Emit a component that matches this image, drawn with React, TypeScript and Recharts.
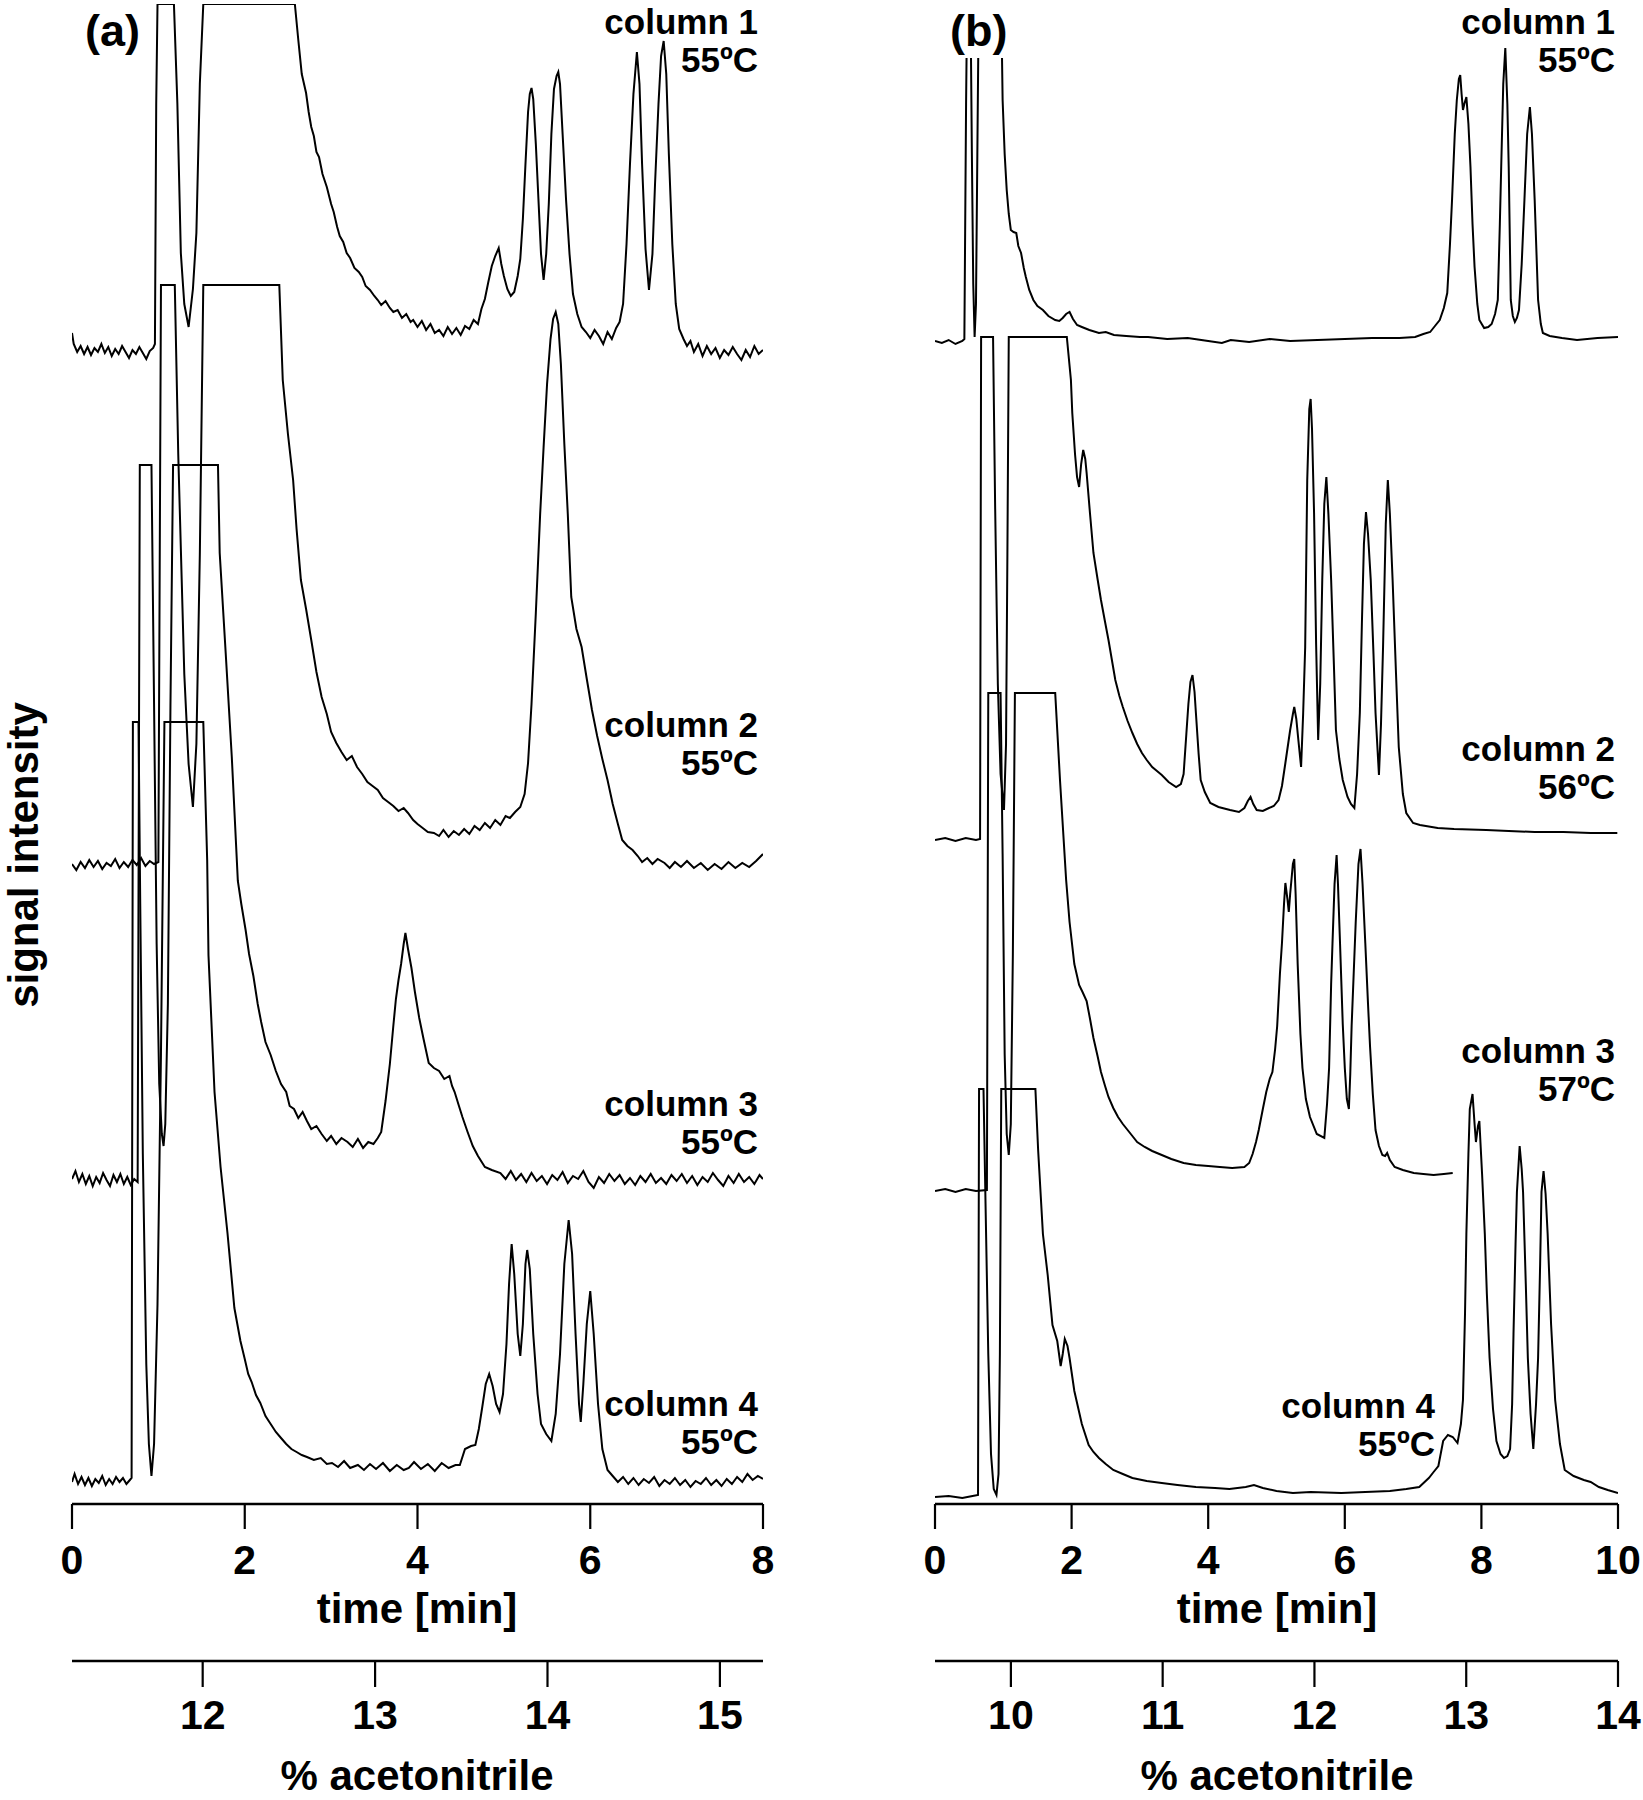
import React from 'react';
import { LineChart, Line, XAxis, YAxis } from 'recharts';

const FONT = '"Liberation Sans", Arial, Helvetica, sans-serif';

// ---- axes ----
const timeTicksA = [0, 2, 4, 6, 8];
const timeDomainA = [0, 8];
const acnTicksA = [12, 13, 14, 15];
const acnDomainA = [11.242, 15.25];

const timeTicksB = [0, 2, 4, 6, 8, 10];
const timeDomainB = [0, 10];
const acnTicksB = [10, 11, 12, 13, 14];
const acnDomainB = [9.5, 14];

const signalDomain = [0, 1500];

// ---- panel (a) traces: [time (min), signal (a.u., stacked)] ----
const A1: number[][] = [
  [0,1171],[0.02,1160],[0.06,1152],[0.1,1158],[0.14,1150],[0.18,1157],[0.22,1149],[0.26,1156],[0.3,1152],[0.34,1160],[0.38,1151],[0.42,1157],[0.46,1148],[0.5,1155],[0.54,1150],[0.58,1158],[0.62,1152],[0.66,1146],[0.7,1154],[0.74,1150],[0.78,1157],[0.82,1151],[0.86,1145],[0.9,1153],[0.94,1156],[0.96,1160],
  [0.975,1400],[0.99,1500],[1.18,1500],[1.22,1400],[1.26,1251],[1.3,1200],[1.35,1177],[1.4,1215],[1.44,1271],[1.48,1420],[1.52,1500],[2.58,1500],
  [2.62,1464],[2.66,1430],[2.71,1411],[2.74,1392],[2.77,1377],[2.8,1368],[2.83,1352],[2.86,1347],[2.9,1330],[2.95,1317],[3.0,1300],[3.03,1292],[3.07,1277],[3.1,1268],[3.14,1262],[3.18,1251],[3.22,1246],[3.27,1236],[3.32,1232],[3.36,1227],[3.4,1218],[3.45,1214],[3.5,1208],[3.54,1204],[3.58,1199],[3.63,1203],[3.68,1196],[3.72,1192],[3.77,1194],[3.82,1186],[3.87,1190],[3.92,1182],[3.95,1184],[4.0,1177],[4.05,1183],[4.1,1174],[4.15,1180],[4.2,1171],[4.25,1174],[4.3,1168],[4.35,1177],[4.4,1170],[4.45,1176],[4.5,1169],[4.55,1178],[4.6,1175],[4.65,1184],[4.7,1180],[4.74,1195],[4.78,1205],[4.82,1222],[4.86,1238],[4.9,1248],[4.94,1256],[4.97,1240],[5.0,1228],[5.04,1215],[5.08,1208],[5.12,1212],[5.16,1228],[5.19,1245],[5.22,1285],[5.25,1340],[5.28,1392],[5.3,1410],[5.32,1416],[5.34,1405],[5.37,1360],[5.4,1305],[5.43,1250],[5.46,1224],[5.49,1250],[5.52,1300],[5.55,1370],[5.58,1415],[5.61,1428],[5.63,1432],[5.65,1420],[5.68,1370],[5.72,1304],[5.76,1250],[5.8,1210],[5.85,1190],[5.9,1177],[5.95,1172],[6.0,1166],[6.05,1174],[6.1,1168],[6.15,1160],[6.2,1172],[6.25,1165],[6.3,1176],[6.34,1182],[6.38,1200],[6.42,1260],[6.46,1340],[6.5,1410],[6.54,1452],[6.57,1420],[6.6,1340],[6.64,1255],[6.68,1214],[6.72,1250],[6.75,1320],[6.79,1400],[6.82,1448],[6.85,1463],[6.88,1430],[6.91,1350],[6.95,1260],[6.99,1200],[7.03,1175],[7.08,1165],[7.12,1158],[7.16,1163],[7.2,1152],[7.25,1160],[7.3,1148],[7.35,1158],[7.4,1150],[7.45,1156],[7.5,1146],[7.55,1154],[7.6,1149],[7.65,1157],[7.7,1150],[7.75,1144],[7.8,1154],[7.85,1147],[7.9,1158],[7.95,1150],[8.0,1154],
];

const A2: number[][] = [
  [0,640],[0.05,634],[0.1,642],[0.15,636],[0.2,644],[0.25,637],[0.3,643],[0.35,635],[0.4,641],[0.45,638],[0.5,645],[0.55,636],[0.6,642],[0.65,637],[0.7,644],[0.75,639],[0.8,646],[0.85,638],[0.9,643],[0.95,640],[1.0,642],
  [1.03,1219],[1.19,1219],[1.23,1050],[1.3,830],[1.35,740],[1.4,697],[1.44,760],[1.48,950],[1.52,1219],[2.4,1219],
  [2.44,1124],[2.5,1070],[2.56,1024],[2.6,975],[2.65,924],[2.71,895],[2.77,864],[2.83,832],[2.89,807],[2.95,790],[3.0,772],[3.06,761],[3.12,752],[3.18,744],[3.24,748],[3.3,737],[3.36,730],[3.42,722],[3.48,718],[3.54,714],[3.6,706],[3.66,702],[3.72,698],[3.78,693],[3.84,696],[3.89,691],[3.95,684],[4.0,680],[4.06,676],[4.12,672],[4.19,671],[4.25,668],[4.3,674],[4.36,667],[4.42,673],[4.48,669],[4.54,675],[4.6,670],[4.66,678],[4.72,674],[4.78,681],[4.84,676],[4.9,684],[4.96,679],[5.02,688],[5.07,686],[5.13,692],[5.19,697],[5.24,710],[5.28,741],[5.32,800],[5.37,891],[5.42,990],[5.46,1057],[5.5,1120],[5.54,1165],[5.57,1185],[5.6,1192],[5.63,1180],[5.66,1140],[5.7,1060],[5.74,990],[5.78,907],[5.84,875],[5.9,857],[5.96,825],[6.02,794],[6.08,768],[6.14,745],[6.2,724],[6.26,700],[6.32,680],[6.37,664],[6.43,658],[6.49,654],[6.55,648],[6.6,642],[6.66,646],[6.72,640],[6.78,645],[6.86,641],[6.92,636],[6.98,642],[7.05,637],[7.12,643],[7.2,636],[7.28,641],[7.36,634],[7.44,640],[7.52,635],[7.6,642],[7.68,636],[7.76,641],[7.84,637],[7.92,643],[8.0,650],
];

const A3: number[][] = [
  [0,325],[0.04,333],[0.08,322],[0.12,330],[0.16,320],[0.2,328],[0.24,318],[0.28,327],[0.32,321],[0.36,331],[0.4,324],[0.44,318],[0.48,329],[0.52,322],[0.56,330],[0.6,320],[0.64,327],[0.68,319],[0.72,325],[0.76,322],
  [0.785,1039],[0.92,1039],[0.95,800],[0.98,560],[1.01,420],[1.04,370],[1.06,358],[1.08,380],[1.11,500],[1.14,800],[1.17,1039],[1.69,1039],
  [1.71,951],[1.78,850],[1.85,747],[1.92,623],[1.96,600],[2.01,574],[2.05,550],[2.1,528],[2.15,500],[2.19,482],[2.24,462],[2.3,449],[2.36,433],[2.42,420],[2.48,412],[2.52,398],[2.57,395],[2.62,386],[2.67,392],[2.72,383],[2.77,375],[2.83,378],[2.89,370],[2.95,363],[3.0,368],[3.06,360],[3.12,366],[3.19,362],[3.25,357],[3.31,365],[3.37,356],[3.43,362],[3.49,360],[3.54,366],[3.58,372],[3.63,403],[3.68,440],[3.72,478],[3.75,505],[3.78,524],[3.81,540],[3.84,560],[3.86,571],[3.89,555],[3.93,536],[3.97,512],[4.02,486],[4.07,465],[4.13,441],[4.19,436],[4.25,433],[4.31,425],[4.37,428],[4.4,418],[4.43,412],[4.48,398],[4.52,387],[4.58,372],[4.64,358],[4.7,348],[4.78,337],[4.86,334],[4.96,331],[5.02,325],[5.08,333],[5.14,324],[5.2,330],[5.26,322],[5.32,331],[5.38,323],[5.44,328],[5.5,320],[5.56,329],[5.62,324],[5.68,332],[5.74,321],[5.8,328],[5.86,325],[5.92,333],[5.98,322],[6.04,316],[6.1,327],[6.16,321],[6.22,330],[6.28,323],[6.34,329],[6.4,320],[6.46,326],[6.52,319],[6.58,328],[6.64,322],[6.7,330],[6.76,321],[6.82,326],[6.88,320],[6.94,329],[7.0,323],[7.06,330],[7.12,321],[7.18,328],[7.24,319],[7.3,327],[7.36,322],[7.42,331],[7.48,324],[7.54,318],[7.6,328],[7.66,321],[7.72,330],[7.78,322],[7.84,327],[7.9,320],[7.96,329],[8.0,325],
];

const A4: number[][] = [
  [0,22],[0.03,30],[0.07,20],[0.11,27],[0.15,19],[0.19,26],[0.23,18],[0.27,25],[0.31,21],[0.35,28],[0.39,19],[0.43,25],[0.47,20],[0.51,27],[0.55,22],[0.59,26],[0.63,20],[0.67,24],[0.69,26],
  [0.705,782],[0.77,782],[0.79,600],[0.82,350],[0.86,140],[0.89,60],[0.92,28],[0.95,60],[0.99,200],[1.03,450],[1.07,782],[1.52,782],
  [1.565,644],[1.58,549],[1.65,412],[1.72,337],[1.8,271],[1.88,196],[1.95,163],[2.0,145],[2.04,130],[2.08,122],[2.13,109],[2.18,101],[2.24,88],[2.3,80],[2.36,72],[2.42,66],[2.48,60],[2.54,55],[2.6,52],[2.66,49],[2.72,47],[2.8,44],[2.88,46],[2.95,40],[3.01,41],[3.08,37],[3.15,43],[3.22,36],[3.31,39],[3.38,34],[3.45,40],[3.52,35],[3.6,41],[3.68,33],[3.76,39],[3.84,34],[3.9,36],[3.96,42],[4.04,35],[4.12,40],[4.2,33],[4.28,41],[4.36,36],[4.44,39],[4.49,39],[4.55,55],[4.62,58],[4.67,59],[4.71,75],[4.75,97],[4.79,120],[4.83,130],[4.87,118],[4.91,100],[4.95,92],[4.99,110],[5.03,160],[5.06,220],[5.09,260],[5.12,230],[5.16,170],[5.19,148],[5.22,180],[5.25,240],[5.27,254],[5.3,235],[5.34,170],[5.39,110],[5.43,80],[5.49,70],[5.55,63],[5.6,90],[5.65,150],[5.7,240],[5.75,284],[5.79,250],[5.83,170],[5.87,100],[5.89,82],[5.92,120],[5.96,180],[6.0,213],[6.04,170],[6.09,100],[6.14,55],[6.2,34],[6.26,28],[6.32,22],[6.38,27],[6.44,20],[6.5,26],[6.56,19],[6.62,25],[6.68,21],[6.74,27],[6.8,18],[6.86,24],[6.92,20],[6.98,26],[7.04,19],[7.1,24],[7.16,17],[7.22,23],[7.28,20],[7.34,26],[7.4,19],[7.46,24],[7.52,18],[7.58,25],[7.64,20],[7.7,27],[7.76,22],[7.82,30],[7.88,24],[7.94,28],[8.0,25],
];

// ---- panel (b) traces ----
const B1: number[][] = [
  [0,1163],[0.1,1161],[0.2,1164],[0.3,1160],[0.4,1163],[0.43,1165],[0.455,1400],[0.47,1500],[0.52,1500],[0.54,1350],[0.56,1220],[0.58,1167],[0.6,1200],[0.62,1350],[0.64,1500],[0.97,1500],
  [0.99,1404],[1.02,1350],[1.05,1314],[1.08,1290],[1.11,1274],[1.15,1272],[1.19,1271],[1.22,1258],[1.26,1251],[1.3,1236],[1.33,1227],[1.38,1214],[1.44,1204],[1.5,1198],[1.58,1194],[1.66,1188],[1.76,1184],[1.82,1183],[1.87,1186],[1.92,1190],[1.97,1192],[2.02,1185],[2.08,1179],[2.15,1177],[2.26,1174],[2.4,1171],[2.5,1172],[2.62,1169],[2.8,1168],[3.0,1167],[3.12,1167],[3.4,1165],[3.7,1166],[4.0,1163],[4.2,1161],[4.33,1164],[4.6,1162],[4.9,1165],[5.2,1163],[5.6,1164],[6.0,1165],[6.4,1166],[6.8,1166],[7.03,1167],[7.15,1170],[7.25,1172],[7.32,1178],[7.39,1184],[7.45,1196],[7.5,1211],[7.54,1260],[7.57,1304],[7.61,1370],[7.64,1404],[7.67,1425],[7.69,1429],[7.71,1410],[7.73,1394],[7.75,1400],[7.78,1407],[7.81,1380],[7.84,1337],[7.87,1280],[7.9,1237],[7.94,1200],[7.97,1184],[8.04,1176],[8.1,1177],[8.15,1180],[8.2,1190],[8.24,1204],[8.27,1280],[8.29,1337],[8.32,1420],[8.35,1456],[8.38,1400],[8.4,1337],[8.43,1204],[8.46,1188],[8.49,1182],[8.52,1186],[8.55,1194],[8.59,1240],[8.63,1304],[8.67,1370],[8.71,1397],[8.74,1370],[8.78,1304],[8.83,1204],[8.87,1180],[8.9,1171],[9.0,1168],[9.18,1166],[9.4,1164],[9.7,1166],[10,1167],
];

const B2: number[][] = [
  [0,664],[0.15,666],[0.3,663],[0.45,666],[0.6,664],[0.66,665],[0.675,1167],[0.85,1167],[0.88,1000],[0.92,820],[0.96,730],[1.01,694],[1.04,760],[1.06,950],[1.08,1167],[1.93,1167],
  [1.99,1124],[2.01,1091],[2.05,1050],[2.08,1027],[2.11,1017],[2.14,1040],[2.17,1054],[2.2,1045],[2.22,1031],[2.27,990],[2.32,951],[2.38,925],[2.43,904],[2.49,882],[2.54,864],[2.6,840],[2.64,824],[2.7,808],[2.75,797],[2.82,783],[2.89,771],[2.96,760],[3.03,751],[3.1,744],[3.18,737],[3.25,733],[3.32,729],[3.42,722],[3.53,717],[3.6,720],[3.64,730],[3.68,770],[3.71,800],[3.74,822],[3.77,829],[3.8,812],[3.82,791],[3.86,750],[3.89,724],[3.95,712],[4.03,701],[4.15,697],[4.32,694],[4.45,692],[4.53,696],[4.58,703],[4.62,707],[4.66,700],[4.71,694],[4.8,693],[4.89,696],[4.96,698],[5.03,704],[5.08,718],[5.13,741],[5.2,774],[5.24,790],[5.26,797],[5.29,785],[5.32,764],[5.36,737],[5.39,790],[5.42,857],[5.45,1024],[5.48,1095],[5.5,1105],[5.52,1075],[5.55,991],[5.58,860],[5.61,764],[5.64,820],[5.67,924],[5.7,1000],[5.73,1027],[5.76,990],[5.8,924],[5.84,840],[5.87,774],[5.92,745],[5.97,724],[6.04,707],[6.09,700],[6.14,696],[6.18,730],[6.22,791],[6.25,880],[6.28,960],[6.31,992],[6.34,970],[6.38,924],[6.42,850],[6.45,791],[6.5,729],[6.53,780],[6.56,857],[6.6,980],[6.63,1024],[6.66,990],[6.7,924],[6.75,830],[6.79,757],[6.85,710],[6.9,691],[7.0,681],[7.1,679],[7.36,676],[7.6,675],[8.07,674],[8.4,673],[8.78,672],[9.2,672],[9.6,671],[9.99,671],
];

const B3: number[][] = [
  [0,313],[0.15,315],[0.3,312],[0.45,315],[0.6,313],[0.76,314],[0.78,811],[0.96,811],[0.99,650],[1.02,450],[1.05,370],[1.08,349],[1.11,380],[1.14,550],[1.17,811],[1.76,811],
  [1.83,724],[1.92,624],[1.97,582],[2.04,540],[2.11,519],[2.16,512],[2.22,503],[2.27,485],[2.32,466],[2.38,448],[2.43,432],[2.49,418],[2.54,407],[2.61,396],[2.68,387],[2.75,380],[2.82,374],[2.89,368],[2.96,362],[3.07,357],[3.18,353],[3.32,349],[3.46,345],[3.64,341],[3.82,339],[4.0,338],[4.17,337],[4.35,336],[4.53,337],[4.6,341],[4.65,350],[4.7,362],[4.74,374],[4.8,395],[4.85,412],[4.9,425],[4.94,432],[4.98,455],[5.01,478],[5.05,530],[5.08,561],[5.11,600],[5.13,621],[5.16,605],[5.18,592],[5.2,610],[5.22,625],[5.24,640],[5.26,645],[5.28,610],[5.31,540],[5.35,470],[5.38,436],[5.43,405],[5.49,387],[5.59,370],[5.7,366],[5.74,400],[5.77,436],[5.8,520],[5.82,561],[5.85,620],[5.88,649],[5.9,620],[5.93,561],[5.97,480],[6.0,436],[6.03,405],[6.06,395],[6.08,430],[6.1,478],[6.13,530],[6.16,582],[6.2,640],[6.23,655],[6.26,620],[6.3,561],[6.34,500],[6.37,457],[6.41,410],[6.45,374],[6.5,358],[6.55,349],[6.59,348],[6.62,351],[6.66,344],[6.73,337],[6.85,334],[7.01,331],[7.15,330],[7.3,329],[7.45,330],[7.58,331],
];

const B4: number[][] = [
  [0,7],[0.2,8],[0.4,6],[0.55,8],[0.63,9],[0.645,415],[0.71,415],[0.74,300],[0.78,150],[0.82,50],[0.86,15],[0.9,9],[0.93,30],[0.95,150],[0.97,415],[1.47,415],
  [1.51,354],[1.58,270],[1.65,229],[1.72,179],[1.79,163],[1.84,138],[1.87,150],[1.9,165],[1.94,158],[1.97,146],[2.04,113],[2.1,95],[2.15,80],[2.25,59],[2.32,52],[2.4,46],[2.5,40],[2.61,34],[2.75,30],[2.89,26],[3.1,23],[3.32,21],[3.55,19],[3.82,17],[4.1,16],[4.31,15],[4.55,17],[4.67,19],[4.8,16],[5.0,13],[5.24,11],[5.5,12],[5.95,11],[6.3,12],[6.66,13],[6.9,15],[7.09,17],[7.23,26],[7.3,32],[7.37,38],[7.44,63],[7.51,69],[7.58,67],[7.65,61],[7.7,80],[7.73,104],[7.76,190],[7.78,270],[7.81,350],[7.83,395],[7.87,410],[7.9,380],[7.92,362],[7.95,378],[7.97,383],[8.01,330],[8.05,270],[8.08,210],[8.12,146],[8.17,95],[8.22,63],[8.28,50],[8.33,46],[8.38,48],[8.42,55],[8.45,100],[8.47,170],[8.5,260],[8.52,312],[8.56,358],[8.59,335],[8.61,312],[8.65,220],[8.68,146],[8.72,90],[8.76,55],[8.8,100],[8.83,146],[8.86,240],[8.88,312],[8.91,333],[8.94,310],[8.97,270],[9.02,180],[9.08,104],[9.15,60],[9.22,34],[9.35,28],[9.5,24],[9.6,22],[9.72,17],[9.85,14],[10,11],
];

// ---- text ----
const labelsA = [
  { name: 'column 1', temp: '55ºC' },
  { name: 'column 2', temp: '55ºC' },
  { name: 'column 3', temp: '55ºC' },
  { name: 'column 4', temp: '55ºC' },
];
const labelsB = [
  { name: 'column 1', temp: '55ºC' },
  { name: 'column 2', temp: '56ºC' },
  { name: 'column 3', temp: '57ºC' },
  { name: 'column 4', temp: '55ºC' },
];

const toRows = (pts: number[][]) => pts.map(([t, v]) => ({ t, v }));
const acnRows = (ticks: number[]) => ticks.map((a) => ({ a, v: signalDomain[0] }));

const tickStyle = { fill: '#000', fontSize: 41, fontWeight: 700, fontFamily: FONT };

const TIME_ID = 'axis1time';
const ACN_ID = 'axis2acn';

function Panel(props: any) {
  const { left, width, mLeft, mRight, timeDomain, timeTicks, acnDomain, acnTicks, traces } = props;
  return (
    <div style={{ position: 'absolute', left, top: 0 }}>
      <LineChart width={width} height={1800} margin={{ top: 4, right: mRight, bottom: 0, left: mLeft }}>
        <XAxis
          xAxisId={TIME_ID}
          dataKey="t"
          type="number"
          domain={timeDomain}
          ticks={timeTicks}
          interval={0}
          allowDataOverflow
          height={157}
          tickSize={25}
          tickMargin={16}
          axisLine={{ stroke: '#000', strokeWidth: 2.6 }}
          tickLine={{ stroke: '#000', strokeWidth: 2.2 }}
          tick={tickStyle}
        />
        <XAxis
          xAxisId={ACN_ID}
          dataKey="a"
          type="number"
          domain={acnDomain}
          ticks={acnTicks}
          interval={0}
          allowDataOverflow
          height={139}
          tickSize={26}
          tickMargin={13}
          axisLine={{ stroke: '#000', strokeWidth: 2.6 }}
          tickLine={{ stroke: '#000', strokeWidth: 2.2 }}
          tick={tickStyle}
        />
        <YAxis
          yAxisId="sig"
          type="number"
          domain={signalDomain}
          ticks={signalDomain}
          allowDataOverflow
          width={0}
          tickSize={19}
          tickFormatter={() => ''}
          axisLine={{ stroke: '#000', strokeWidth: 2.4 }}
          tickLine={{ stroke: '#000', strokeWidth: 2.4 }}
        />
        <Line
          xAxisId={ACN_ID}
          yAxisId="sig"
          data={acnRows(acnTicks)}
          dataKey="v"
          type="linear"
          stroke="none"
          dot={false}
          activeDot={false}
          isAnimationActive={false}
        />
        {traces.map((d: number[][], i: number) => (
          <Line
            key={i}
            xAxisId={TIME_ID}
            yAxisId="sig"
            data={toRows(d)}
            dataKey="v"
            type="linear"
            stroke="#000"
            strokeWidth={2}
            dot={false}
            activeDot={false}
            isAnimationActive={false}
          />
        ))}
      </LineChart>
    </div>
  );
}

const txt = { fontFamily: FONT, fontWeight: 700, fill: '#000' } as const;

function ColLabel({ x, y, name, temp }: any) {
  return (
    <g>
      <text x={x} y={y} textAnchor="end" fontSize={35} style={txt}>{name}</text>
      <text x={x} y={y + 38} textAnchor="end" fontSize={35} style={txt}>{temp}</text>
    </g>
  );
}

export default function App() {
  const colYA = [34, 737, 1116, 1416];
  const colYB = [34, 761, 1063, 1418];
  const colXB = [1615, 1615, 1615, 1435];
  return (
    <div style={{ position: 'absolute', left: 0, top: 0, width: 1643, height: 1800, background: '#fff', overflow: 'hidden' }}>
      <Panel left={0} width={800} mLeft={72} mRight={37} timeDomain={timeDomainA} timeTicks={timeTicksA} acnDomain={acnDomainA} acnTicks={acnTicksA} traces={[A1, A2, A3, A4]} />
      <Panel left={850} width={793} mLeft={85} mRight={25} timeDomain={timeDomainB} timeTicks={timeTicksB} acnDomain={acnDomainB} acnTicks={acnTicksB} traces={[B1, B2, B3, B4]} />
      <svg width={1643} height={1800} style={{ position: 'absolute', left: 0, top: 0, pointerEvents: 'none' }}>
        <text x={85} y={46} fontSize={45} style={txt}>(a)</text>
        <rect x={944} y={0} width={68} height={58} fill="#fff" />
        <text x={950} y={46} fontSize={45} style={txt}>(b)</text>
        <text x={38} y={855} fontSize={42} textAnchor="middle" transform="rotate(-90 38 855)" style={txt}>signal intensity</text>
        <text x={417} y={1623} fontSize={42} textAnchor="middle" style={txt}>time [min]</text>
        <text x={1277} y={1623} fontSize={42} textAnchor="middle" style={txt}>time [min]</text>
        <text x={417} y={1790} fontSize={42} textAnchor="middle" style={txt}>% acetonitrile</text>
        <text x={1277} y={1790} fontSize={42} textAnchor="middle" style={txt}>% acetonitrile</text>
        {labelsA.map((l, i) => <ColLabel key={'a' + i} x={758} y={colYA[i]} name={l.name} temp={l.temp} />)}
        {labelsB.map((l, i) => <ColLabel key={'b' + i} x={colXB[i]} y={colYB[i]} name={l.name} temp={l.temp} />)}
      </svg>
    </div>
  );
}
